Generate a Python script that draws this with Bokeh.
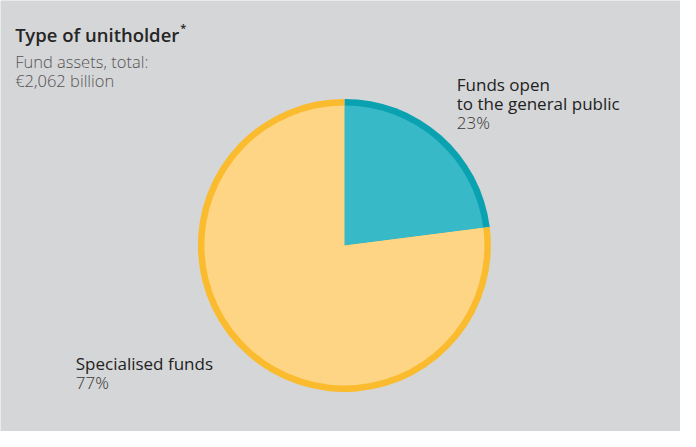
import numpy as np
from bokeh.plotting import figure
from bokeh.models import ColumnDataSource, Range1d
from bokeh.core.properties import value
from bokeh.embed import file_html
from bokeh.resources import INLINE

# ---- data ----
categories = ["Funds open to the general public", "Specialised funds"]
shares = [23, 77]
label_lines = [["Funds open", "to the general public"], ["Specialised funds"]]
pct_labels = ["23%", "77%"]
fill_colors = ["#38b9c8", "#fed584"]
ring_colors = ["#0aa1b1", "#fbbb2e"]

title = "Type of unitholder"
subtitle = ["Fund assets, total:", "€2,062 billion"]

W, H = 680, 431          # figure size in pixels
RW, RH = 696, 447        # layout reference frame
BG = "#d5d6d8"
MEDIUM = "Open Sans Medium, Open Sans"
SEMI = "Open Sans SemiBold, Open Sans"
LIGHT = "Open Sans Light, Open Sans"

def sy(y):
    return RH - y

p = figure(width=W, height=H, output_backend="svg", toolbar_location=None,
           x_range=Range1d(0, RW), y_range=Range1d(0, RH), min_border=0)
p.axis.visible = False
p.grid.visible = False
p.outline_line_color = None
p.background_fill_color = BG
p.border_fill_color = BG

# pie
vals = np.array(shares, dtype=float)
frac = vals / vals.sum()
cum = np.concatenate([[0], np.cumsum(frac)])
start = np.pi / 2 - cum[:-1] * 2 * np.pi
end = np.pi / 2 - cum[1:] * 2 * np.pi
cx, cy = 352, sy(254)
src = ColumnDataSource(dict(x=[cx] * len(vals), y=[cy] * len(vals), start=start, end=end,
                            fill=fill_colors, ring=ring_colors, cat=categories))
p.wedge(x="x", y="y", radius=146.5, radius_units="screen", start_angle="start", end_angle="end",
        direction="clock", fill_color="ring", line_color=None, source=src)
p.wedge(x="x", y="y", radius=140, radius_units="screen", start_angle="start", end_angle="end",
        direction="clock", fill_color="fill", line_color=None, source=src)

# title
p.text(x=[15], y=[sy(35)], text=[title], text_font=value(SEMI), text_font_size="18.5px",
       text_color="#262626", text_baseline="alphabetic")
p.text(x=[184], y=[sy(28)], text=["*"], text_font=value(SEMI), text_font_size="11px",
       text_color="#262626", text_baseline="alphabetic")
p.text(x=[15] * 2, y=[sy(63), sy(83)], text=subtitle, text_font=value(LIGHT),
       text_font_size="16.5px", text_color="#555557", text_baseline="alphabetic")

# labels
label_pos = [(467, 87), (77, 376)]
for (lx, ly), lines, pct in zip(label_pos, label_lines, pct_labels):
    ys = [sy(ly + 20 * i) for i in range(len(lines))]
    p.text(x=[lx] * len(lines), y=ys, text=lines, text_font=value(MEDIUM), text_font_size="17px",
           text_color="#222222", text_baseline="alphabetic")
    p.text(x=[lx], y=[sy(ly + 20 * len(lines))], text=[pct], text_font=value(LIGHT),
           text_font_size="17px", text_color="#3a3a3a", text_baseline="alphabetic")

open("out.html", "w").write(file_html(p, INLINE))
